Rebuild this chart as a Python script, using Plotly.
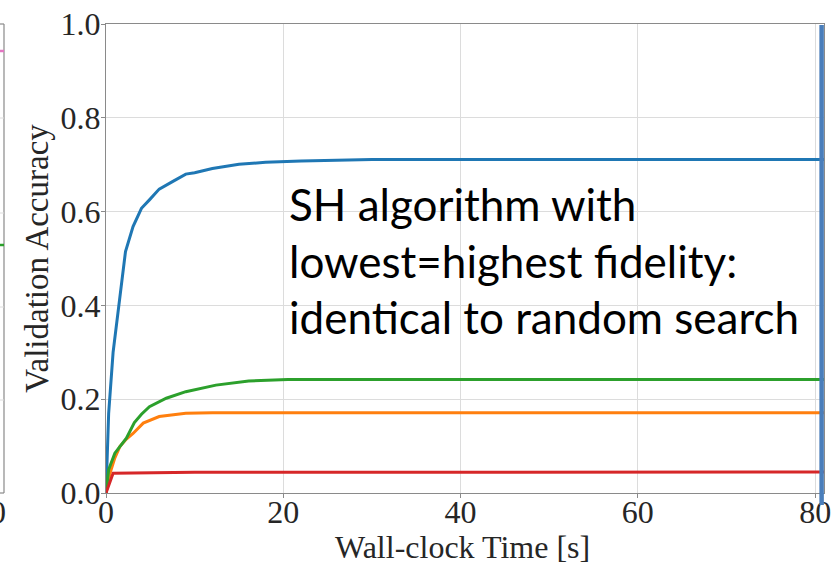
import plotly.graph_objects as go

# ---- data ----
blue_x = [0, 0.3, 0.8, 1.35, 2.2, 3.05, 4.0, 4.9, 6.0, 7.5, 9.0, 10.0, 12.0, 15.0, 18.0, 22.0, 30.0, 81.0]
blue_y = [0.0, 0.17, 0.30, 0.38, 0.515, 0.568, 0.607, 0.625, 0.648, 0.664, 0.680, 0.683, 0.692, 0.701, 0.705, 0.708, 0.711, 0.711]

orange_x = [0, 0.45, 1.0, 1.56, 2.3, 3.05, 4.2, 6.0, 9.0, 12.0, 81.0]
orange_y = [0.0, 0.042, 0.075, 0.099, 0.115, 0.127, 0.149, 0.163, 0.170, 0.171, 0.171]

green_x = [0, 0.3, 1.0, 2.3, 3.2, 4.0, 4.9, 6.8, 9.0, 12.4, 16.1, 20.5, 81.0]
green_y = [0.0, 0.05, 0.085, 0.117, 0.150, 0.168, 0.184, 0.202, 0.216, 0.230, 0.239, 0.242, 0.242]

red_x = [0, 0.8, 10.0, 81.0]
red_y = [0.0, 0.042, 0.044, 0.045]

x_ticks = [0, 20, 40, 60, 80]
y_ticks = [0.0, 0.2, 0.4, 0.6, 0.8, 1.0]
y_tick_labels = ["0.0", "0.2", "0.4", "0.6", "0.8", "1.0"]

x_title = "Wall-clock Time [s]"
y_title = "Validation Accuracy"
note_lines = ["SH algorithm with", "lowest=highest fidelity:", "identical to random search"]
marker_x = 80.73  # vertical highlight line

# ---- layout geometry ----
W, H = 836, 567
L, R, T, B = 106, 5, 24, 74
PW, PH = W - L - R, H - T - B


def px_x(p):
    return (p - L) / PW


def px_y(p):
    return (H - B - p) / PH


serif = "Liberation Serif"
fig = go.Figure()
for xs, ys, c in [(blue_x, blue_y, "#1f77b4"), (orange_x, orange_y, "#ff7f0e"),
                  (green_x, green_y, "#2ca02c"), (red_x, red_y, "#d62728")]:
    fig.add_trace(go.Scatter(x=xs, y=ys, mode="lines", line=dict(color=c, width=3),
                             showlegend=False, hoverinfo="skip"))

axis_common = dict(showgrid=True, gridcolor="#dcdcdc", gridwidth=1, showline=True,
                   linecolor="#8a8a8a", linewidth=1.2, mirror=True, ticks="outside",
                   ticklen=4, tickcolor="#8a8a8a", zeroline=False,
                   ticklabeloverflow="allow",
                   tickfont=dict(family=serif, size=32, color="#262626"))

fig.update_layout(
    width=W, height=H, margin=dict(l=L, r=R, t=T, b=B),
    paper_bgcolor="white", plot_bgcolor="white",
    xaxis=dict(range=[0, 81.0], tickvals=x_ticks, ticklabelstandoff=-14, **axis_common),
    yaxis=dict(range=[0, 1.0], tickvals=y_ticks, ticktext=y_tick_labels,
               ticklabelstandoff=-6, **axis_common),
)

# axis titles
fig.add_annotation(text=x_title, xref="paper", yref="paper", x=px_x(466), y=px_y(547),
                   xanchor="center", yanchor="middle", showarrow=False,
                   font=dict(family=serif, size=32, color="#262626"))
fig.add_annotation(text=y_title, xref="paper", yref="paper", x=px_x(36), y=px_y(258),
                   xanchor="center", yanchor="middle", showarrow=False, textangle=-90,
                   font=dict(family=serif, size=33, color="#262626"))

# slide text
for line, base in zip(note_lines, [220, 277, 333]):
    fig.add_annotation(text=line, xref="paper", yref="paper", x=px_x(289), y=px_y(base - 16),
                       xanchor="left", yanchor="middle", showarrow=False,
                       font=dict(family="Lato", size=44, color="black"))

# vertical highlight line
fig.add_shape(type="line", xref="x", yref="paper", x0=marker_x, x1=marker_x,
              y0=px_y(25), y1=px_y(505), line=dict(color="#4a7ebb", width=4.5), layer="above")

# remnant of neighbouring chart at the left edge
fig.add_shape(type="line", xref="paper", yref="paper", x0=px_x(3), x1=px_x(3),
              y0=px_y(24), y1=px_y(493), line=dict(color="#8a8a8a", width=1.2))
fig.add_shape(type="line", xref="paper", yref="paper", x0=px_x(-2), x1=px_x(3),
              y0=px_y(24), y1=px_y(24), line=dict(color="#8a8a8a", width=1.2))
fig.add_shape(type="line", xref="paper", yref="paper", x0=px_x(-2), x1=px_x(3),
              y0=px_y(493), y1=px_y(493), line=dict(color="#8a8a8a", width=1.2))
for gy in [118, 213, 307, 400]:
    fig.add_shape(type="line", xref="paper", yref="paper", x0=px_x(-2), x1=px_x(3),
                  y0=px_y(gy), y1=px_y(gy), line=dict(color="#dcdcdc", width=1))
fig.add_shape(type="line", xref="paper", yref="paper", x0=px_x(-2), x1=px_x(3),
              y0=px_y(51), y1=px_y(51), line=dict(color="#e377c2", width=2.5))
fig.add_shape(type="line", xref="paper", yref="paper", x0=px_x(-2), x1=px_x(3),
              y0=px_y(245), y1=px_y(245), line=dict(color="#2ca02c", width=2.5))
fig.add_annotation(text="0", xref="paper", yref="paper", x=px_x(-3), y=px_y(512),
                   xanchor="center", yanchor="middle", showarrow=False,
                   font=dict(family=serif, size=32, color="#262626"))

fig.write_html("out.html")
